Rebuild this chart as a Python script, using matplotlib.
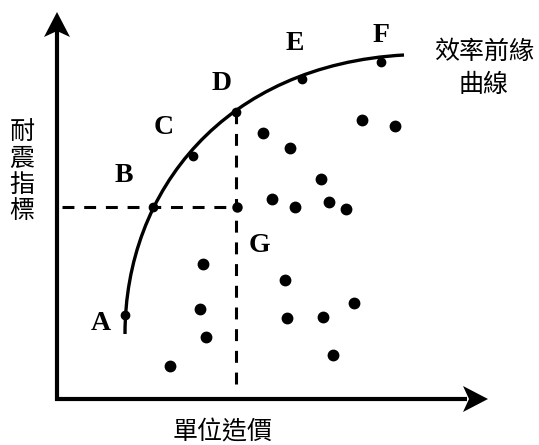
import matplotlib
matplotlib.use("Agg")
import matplotlib.pyplot as plt
from matplotlib.path import Path
from matplotlib.patches import PathPatch

plt.rcParams['font.family'] = ['Noto Sans CJK TC', 'DejaVu Sans']

# frontier points A-F (cost, seismic index)
front_labels = ["A", "B", "C", "D", "E", "F"]
front_x = [68, 96, 136, 179, 245, 324]
front_y = [84, 192, 243, 287, 320, 337]

# point G (same cost as D, same index as B)
g_x = 180
g_y = 192

# other (inefficient) designs
other_x = [206, 233, 305, 338, 264, 215, 238, 272, 289,
           146, 143, 149, 113, 228, 230, 266, 297, 276]
other_y = [266, 251, 279, 273, 220, 200, 192, 197, 190,
           135, 90, 62, 33, 119, 81, 82, 96, 44]

# frontier curve (cubic bezier nodes)
curve_x = [68, 68, 168, 347]
curve_y = [65, 209, 334, 344]

# label positions
label_x = [44, 67, 107, 165, 238, 324]
label_y = [76, 224, 271, 316, 356, 363]

fig = plt.figure(figsize=(5.39, 4.45), dpi=100)
ax = fig.add_axes([0, 0, 1, 1])
ax.set_xlim(-57, 482)
ax.set_ylim(-46, 399)
ax.axis("off")

# axes with stealth arrow heads
ax.plot([0, 0], [-2, 370], color="black", lw=3, solid_capstyle="butt")
ax.plot([-2, 410], [0, 0], color="black", lw=3, solid_capstyle="butt")
ax.fill([0, -13, 0, 13], [387, 362, 368, 362], color="black", lw=0)
ax.fill([431, 406, 412, 406], [0, 13, 0, -13], color="black", lw=0)

# frontier curve
verts = list(zip(curve_x, curve_y))
path = Path(verts, [Path.MOVETO, Path.CURVE4, Path.CURVE4, Path.CURVE4])
ax.add_patch(PathPatch(path, fill=False, lw=2.4, edgecolor="black"))

# dashed guide lines through B/G and D/G
ax.plot([5, g_x - 7], [front_y[1], front_y[1]], color="black", lw=2.2,
        dashes=(3.9, 3.2))
ax.plot([front_x[3], front_x[3]], [15, front_y[3]], color="black", lw=2.2,
        dashes=(3.9, 3.2))

ax.plot(front_x, front_y, "o", color="black", ms=6)
ax.plot([g_x], [g_y], "o", color="black", ms=6.5)
ax.plot(other_x, other_y, "o", color="black", ms=7.5)

for lab, lx, ly in zip(front_labels, label_x, label_y):
    ax.text(lx, ly, lab, ha="center", va="center", fontsize=20,
            fontweight="bold", family="Liberation Serif")
ax.text(202, 153, "G", ha="center", va="center", fontsize=20,
        fontweight="bold", family="Liberation Serif")

ax.text(166, -33, "單位造價", ha="center", va="center", fontsize=18)
ax.text(-35, 227, "耐\n震\n指\n標", ha="center", va="center", fontsize=18,
        linespacing=1.0)
ax.text(427, 331, "效率前緣\n曲線", ha="center", va="center", fontsize=18,
        linespacing=1.35)

fig.savefig("out.png", dpi=100)
